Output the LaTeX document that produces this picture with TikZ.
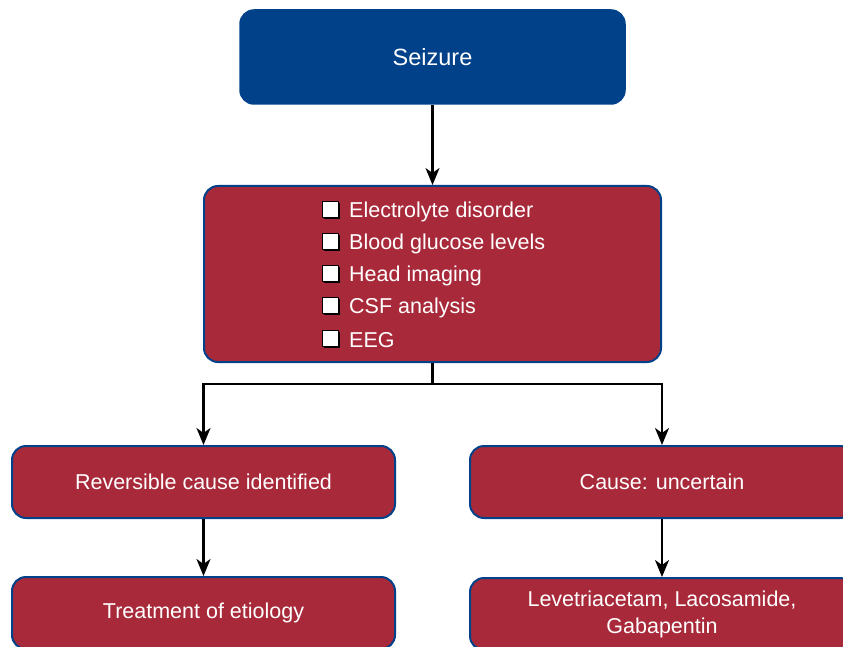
\documentclass[tikz,border=0pt]{standalone}
\usepackage{fontspec}
\setmainfont{Liberation Sans}
\usetikzlibrary{arrows.meta,positioning}
\definecolor{sblue}{RGB}{0,65,138}
\definecolor{sred}{RGB}{168,42,58}
\begin{document}
\begin{tikzpicture}[x=1pt,y=-1pt,
  every node/.style={font=\fontsize{21.5}{27}\selectfont, text=white},
  bluebox/.style={draw=sblue, fill=sblue, rounded corners=14pt, line width=1.5pt, align=center, inner sep=0pt},
  redbox/.style={draw=sblue, fill=sred, rounded corners=14pt, line width=2pt, align=center, inner sep=0pt},
  chk/.style={draw=black, fill=white, line width=0.8pt, minimum size=16pt, inner sep=0pt},
  chkshadow/.style={fill=black, minimum size=16pt, inner sep=0pt},
  item/.style={anchor=west, inner sep=0pt},
  conn/.style={line width=2.3pt, -{Stealth[length=17pt,width=14pt,inset=5pt]}}
]
\useasboundingbox (0,0) rectangle (843,647);

\node[bluebox, minimum width=385pt, minimum height=94pt, font=\fontsize{23.5}{28}\selectfont] (seizure) at (432.5,57) {Seizure};

\node[redbox, minimum width=457pt, minimum height=176pt] (tests) at (432.5,274) {};

\foreach \yy/\txt/\nm in {210/Electrolyte disorder/i1, 242/Blood glucose levels/i2, 274/Head imaging/i3, 306/CSF analysis/i4, 339/EEG/i5} {
  \node[chkshadow] (s\nm) at (332,\yy+1) {};
  \node[chk] (c\nm) at (330,\yy-1) {};
  \node[item] (\nm) at (349,\yy+1.5) {\txt};
}

\node[redbox, minimum width=383pt, minimum height=72pt] (rev) at (203.5,482) {Reversible cause identified};
\node[redbox, minimum width=384pt, minimum height=72pt] (unc) at (662,482) {Cause: uncertain};
\node[redbox, minimum width=383pt, minimum height=72pt] (treat) at (203.5,613) {Treatment of etiology};
\node[redbox, minimum width=384pt, minimum height=72pt] (drugs) at (662,614) {Levetriacetam, Lacosamide,\\Gabapentin};

\coordinate (split) at (432.5,384);

\draw[conn] (seizure.south) -- (tests.north);
\draw[line width=2.3pt] (tests.south) -- (split);
\draw[conn] (split) -| (rev.north);
\draw[conn] (split) -| (unc.north);
\draw[conn] (rev.south) -- (treat.north);
\draw[conn] (unc.south) -- (drugs.north);
\end{tikzpicture}
\end{document}
